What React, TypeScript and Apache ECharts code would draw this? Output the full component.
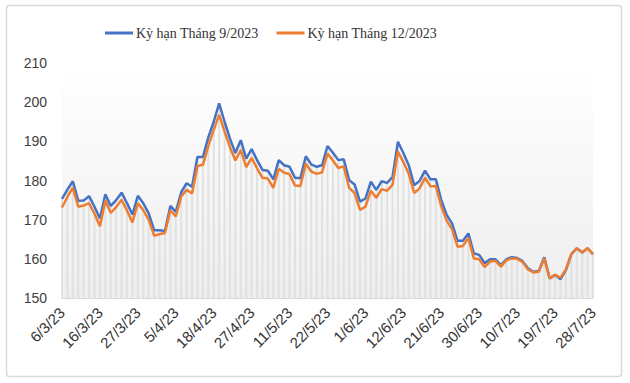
import React, { useEffect, useRef } from "react";
import * as echarts from "echarts";

const dates = [
  "6/3/23","7/3/23","8/3/23","9/3/23","10/3/23","13/3/23","14/3/23",
  "16/3/23","17/3/23","20/3/23","21/3/23","22/3/23","23/3/23","24/3/23",
  "27/3/23","28/3/23","29/3/23","30/3/23","31/3/23","3/4/23","4/4/23",
  "5/4/23","6/4/23","11/4/23","12/4/23","13/4/23","14/4/23","17/4/23",
  "18/4/23","19/4/23","20/4/23","21/4/23","24/4/23","25/4/23","26/4/23",
  "27/4/23","28/4/23","1/5/23","2/5/23","8/5/23","9/5/23","10/5/23",
  "11/5/23","12/5/23","15/5/23","16/5/23","17/5/23","18/5/23","19/5/23",
  "22/5/23","23/5/23","24/5/23","25/5/23","26/5/23","30/5/23","31/5/23",
  "1/6/23","2/6/23","5/6/23","6/6/23","7/6/23","8/6/23","9/6/23",
  "12/6/23","13/6/23","14/6/23","15/6/23","16/6/23","19/6/23","20/6/23",
  "21/6/23","22/6/23","23/6/23","26/6/23","27/6/23","28/6/23","29/6/23",
  "30/6/23","1/7/23","3/7/23","4/7/23","5/7/23","6/7/23","7/7/23",
  "10/7/23","11/7/23","12/7/23","13/7/23","14/7/23","17/7/23","18/7/23",
  "19/7/23","20/7/23","21/7/23","24/7/23","25/7/23","26/7/23","27/7/23",
  "28/7/23",
];

const sep2023 = [
  175.3,177.7,179.8,174.8,174.9,176.0,173.3,
  170.3,176.5,173.5,175.0,176.9,174.2,171.3,
  176.1,174.2,171.6,167.3,167.3,167.1,173.5,
  172.0,177.0,179.3,178.4,186.0,186.0,191.0,
  195.0,199.7,195.0,190.7,187.0,190.3,185.6,
  188.0,185.2,182.7,182.5,180.3,185.2,183.9,
  183.5,180.7,180.6,186.2,184.1,183.5,183.9,
  188.8,187.1,185.2,185.4,180.1,179.0,174.6,
  175.4,179.7,177.6,179.8,179.4,180.9,189.9,
  187.0,183.9,178.8,179.9,182.5,180.3,180.3,
  175.0,171.2,169.0,164.6,164.6,166.5,161.4,
  161.0,158.9,159.9,159.9,158.4,159.9,160.4,
  160.2,159.4,157.6,156.7,156.9,160.4,155.0,
  155.9,154.8,157.1,161.2,162.7,161.6,162.7,
  161.2,
];

const dec2023 = [
  173.1,175.8,178.2,173.3,173.6,174.2,171.5,
  168.3,174.9,171.7,173.2,175.1,172.3,169.3,
  174.2,172.4,170.0,165.9,166.3,166.6,172.4,
  170.8,175.9,177.6,176.7,183.7,184.0,188.8,
  192.9,196.8,192.5,188.5,185.1,187.8,183.4,
  185.8,183.1,180.7,180.5,178.1,183.0,182.0,
  181.6,178.7,178.6,184.3,182.3,181.7,182.1,
  186.9,185.1,183.2,183.6,178.1,176.8,172.5,
  173.3,177.4,175.6,177.8,177.4,178.9,187.4,
  184.7,181.7,176.8,178.0,180.7,178.5,178.6,
  173.4,169.7,167.5,163.1,163.3,165.3,160.1,
  159.9,157.9,159.3,159.5,158.0,159.6,160.1,
  160.0,159.2,157.3,156.5,156.7,160.1,155.0,
  155.9,155.2,157.3,161.2,162.7,161.6,162.7,
  161.2,
];

const seriesNames = ["Kỳ hạn Tháng 9/2023", "Kỳ hạn Tháng 12/2023"];

export default function App() {
  const ref = useRef<HTMLDivElement>(null);
  useEffect(() => {
    document.body.style.margin = "0";
    if (!ref.current) return;
    const chart = echarts.init(ref.current, undefined, { renderer: "svg" });
    chart.setOption({
      animation: false,
      backgroundColor: "#ffffff",
      graphic: [
        {
          type: "rect",
          shape: { x: 6.5, y: 5.5, width: 615, height: 371, r: 3 },
          style: { fill: "none", stroke: "#d9d9d9", lineWidth: 1.5 },
          silent: true,
          z: -1,
        },
      ],
      legend: {
        data: seriesNames,
        left: 100,
        top: 21,
        icon: "rect",
        itemWidth: 28,
        itemHeight: 3,
        itemGap: 18,
        textStyle: {
          fontFamily: "Liberation Serif",
          fontSize: 14,
          color: "#333333",
          padding: [0, 0, 0, -2],
        },
      },
      grid: {
        left: 62,
        right: 37,
        top: 63,
        bottom: 85,
        show: true,
        borderWidth: 0,
        backgroundColor: {
          type: "linear",
          x: 0,
          y: 0,
          x2: 0,
          y2: 1,
          colorStops: [
            { offset: 0, color: "#ffffff" },
            { offset: 1, color: "#eeeeee" },
          ],
        },
      },
      xAxis: {
        type: "category",
        data: dates,
        boundaryGap: false,
        axisLine: { show: true, lineStyle: { color: "#d9d9d9", width: 1 } },
        axisTick: { show: false },
        axisLabel: {
          interval: 6,
          rotate: 45,
          fontFamily: "Liberation Sans",
          fontSize: 15,
          color: "#333333",
          margin: 12,
        },
        splitLine: { show: false },
      },
      yAxis: {
        type: "value",
        min: 150,
        max: 210,
        interval: 10,
        axisLine: { show: false },
        axisTick: { show: false },
        splitLine: { show: false },
        axisLabel: {
          fontFamily: "Liberation Sans",
          fontSize: 14,
          color: "#404040",
          margin: 15,
        },
      },
      series: [
        {
          name: "drop",
          type: "bar",
          data: sep2023,
          barWidth: 2,
          itemStyle: { color: "#e1e1e1" },
          silent: true,
          z: 1,
        },
        {
          name: seriesNames[0],
          type: "line",
          data: sep2023,
          showSymbol: false,
          symbol: "none",
          lineStyle: { color: "#4472C4", width: 2.5 },
          itemStyle: { color: "#4472C4" },
          z: 3,
        },
        {
          name: seriesNames[1],
          type: "line",
          data: dec2023,
          showSymbol: false,
          symbol: "none",
          lineStyle: { color: "#ED7D31", width: 2.5 },
          itemStyle: { color: "#ED7D31" },
          z: 4,
        },
      ],
    });
    return () => chart.dispose();
  }, []);
  return <div ref={ref} style={{ width: 630, height: 383 }} />;
}
